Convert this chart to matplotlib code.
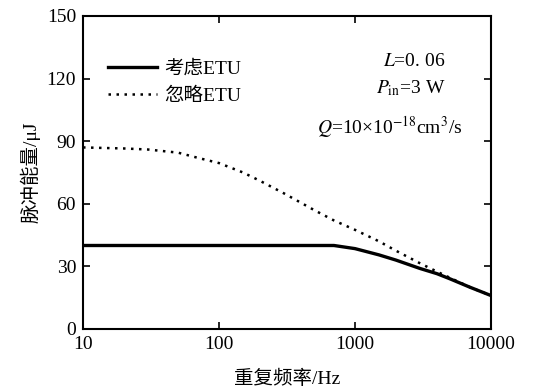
import matplotlib
matplotlib.use('Agg')
import matplotlib.pyplot as plt
import numpy as np
from matplotlib.ticker import FixedLocator, NullLocator

plt.rcParams['font.family'] = ['Liberation Serif', 'Noto Sans CJK SC']
plt.rcParams['mathtext.fontset'] = 'stix'

# 考虑ETU
freq_etu = [10, 30, 100, 300, 700, 1000, 1500, 2000, 3000, 4000, 5000, 7000, 10000]
energy_etu = [40, 40, 40, 40, 40, 38.5, 35.5, 33, 29, 26.5, 24, 20, 16]

# 忽略ETU
freq_no = [10, 20, 30, 50, 70, 100, 150, 200, 300, 400, 500, 700, 1000,
           1500, 2000, 3000, 4000, 5000, 7000, 10000]
energy_no = [87, 86.5, 86, 84.5, 82, 79.5, 75, 71, 65, 60.5, 57, 52, 47.5,
             42, 37.5, 31.5, 27.5, 24.5, 20, 16]

xticks = [10, 100, 1000, 10000]
yticks = [0, 30, 60, 90, 120, 150]

fig = plt.figure(figsize=(5.48, 3.87), dpi=100)
ax = fig.add_axes([0.1515, 0.150, 0.7445, 0.8087])

ax.plot(freq_etu, energy_etu, color='black', lw=2.4, label='考虑ETU')
ax.plot(freq_no, energy_no, color='black', lw=1.8, ls=(0, (1, 2.2)), label='忽略ETU')

ax.set_xscale('log')
ax.set_xlim(10, 10000)
ax.set_ylim(0, 150)
ax.xaxis.set_major_locator(FixedLocator(xticks))
ax.xaxis.set_minor_locator(NullLocator())
ax.set_xticklabels([str(t) for t in xticks])
ax.set_yticks(yticks)
ax.tick_params(direction='in', length=5, width=1.2, top=True, right=True,
               labelsize=14, pad=5)
for s in ax.spines.values():
    s.set_linewidth(1.5)

ax.set_xlabel('重复频率/Hz', fontsize=14, labelpad=12)
ax.set_ylabel('脉冲能量/μJ', fontsize=14, labelpad=4)

ax.legend(loc='upper left', bbox_to_anchor=(0.061, 0.86), frameon=False,
          fontsize=14, handlelength=2.5, handletextpad=0.4, labelspacing=0.5,
          borderpad=0, borderaxespad=0)

ax.text(0.888, 0.855, '$L$=0. 06', transform=ax.transAxes, ha='right',
        va='center', fontsize=14)
ax.text(0.888, 0.77, '$P_{\\rm in}$=3 W', transform=ax.transAxes, ha='right',
        va='center', fontsize=14)
ax.text(0.93, 0.645, '$Q$=10×10$^{-18}$cm$^3$/s', transform=ax.transAxes,
        ha='right', va='center', fontsize=14)

fig.savefig('out.png', dpi=100)
